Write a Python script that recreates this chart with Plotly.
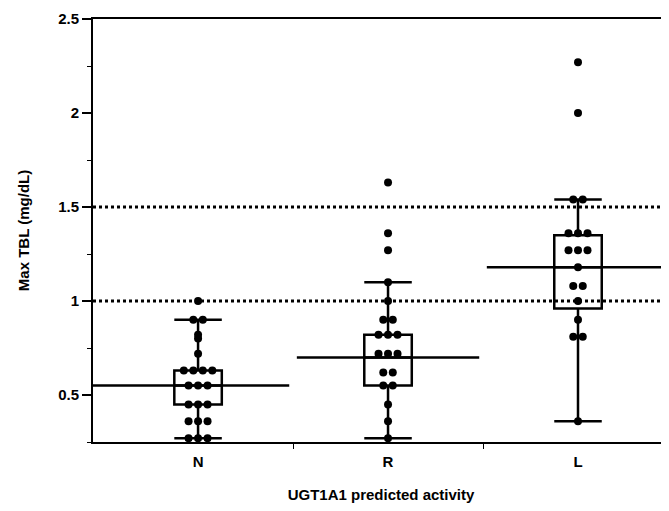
import plotly.graph_objects as go
from collections import Counter

categories = ["N", "R", "L"]

vals_N = [1.0, 0.9, 0.9, 0.82, 0.8, 0.72, 0.63, 0.63, 0.63, 0.63,
          0.55, 0.55, 0.55, 0.45, 0.45, 0.45, 0.36, 0.36, 0.36, 0.27, 0.27, 0.27]
vals_R = [1.63, 1.36, 1.27, 1.1, 1.0, 0.9, 0.9, 0.82, 0.82, 0.82, 0.72, 0.72, 0.72,
          0.62, 0.62, 0.55, 0.55, 0.45, 0.36, 0.27]
vals_L = [2.27, 2.0, 1.54, 1.54, 1.36, 1.36, 1.36, 1.27, 1.27, 1.27, 1.18,
          1.08, 1.08, 1.0, 0.9, 0.81, 0.81, 0.36]

# box statistics
q1 = [0.45, 0.55, 0.96]
medians = [0.55, 0.70, 1.18]
q3 = [0.63, 0.82, 1.35]
lower_whisker = [0.27, 0.27, 0.36]
upper_whisker = [0.90, 1.10, 1.54]

# long horizontal group lines
group_line = [0.55, 0.70, 1.18]

# reference (dotted) lines
ref_lines = [1.0, 1.5]

y_ticks = [0.5, 1, 1.5, 2, 2.5]
y_range = [0.25, 2.5]
x_range = [-0.553, 2.479]

font_main = "Liberation Sans Narrow, Liberation Sans, Arial Narrow, sans-serif"

fig = go.Figure()

all_vals = [vals_N, vals_R, vals_L]

for i, c in enumerate(categories):
    fig.add_trace(go.Box(
        x=[i], q1=[q1[i]], median=[medians[i]], q3=[q3[i]],
        lowerfence=[lower_whisker[i]], upperfence=[upper_whisker[i]],
        width=0.25, whiskerwidth=1,
        line=dict(color="black", width=2.5),
        fillcolor="rgba(0,0,0,0)",
        boxpoints=False, showlegend=False, hoverinfo="skip",
    ))

for i, c in enumerate(categories):
    left = x_range[0] if i == 0 else i - 0.48
    right = x_range[1] + 0.1 if i == len(categories) - 1 else i + 0.48
    fig.add_trace(go.Scatter(
        x=[left, right], y=[group_line[i], group_line[i]], mode="lines",
        line=dict(color="black", width=2.5), showlegend=False, hoverinfo="skip",
    ))

spacing = 0.05
for i, vals in enumerate(all_vals):
    counts = Counter(vals)
    seen = Counter()
    xs, ys = [], []
    for v in vals:
        k = counts[v]
        j = seen[v]
        seen[v] += 1
        xs.append(i + (j - (k - 1) / 2) * spacing)
        ys.append(v)
    fig.add_trace(go.Scatter(
        x=xs, y=ys, mode="markers",
        marker=dict(color="black", size=8),
        showlegend=False, hoverinfo="skip",
    ))

for v in ref_lines:
    fig.add_hline(y=v, line=dict(color="black", width=3, dash="dot"))

fig.update_layout(
    width=661, height=503,
    margin=dict(l=85, r=0, t=11, b=69),
    paper_bgcolor="white", plot_bgcolor="white",
    font=dict(family=font_main, color="black"),
    xaxis=dict(
        automargin=False,
        range=x_range, tickmode="array", tickvals=list(range(len(categories))),
        ticktext=[f"<b>{c}</b>" for c in categories], ticks="", showgrid=False, zeroline=False,
        showline=True, linecolor="black", linewidth=2, mirror=True,
        tickfont=dict(size=15, family=font_main), ticklabelstandoff=5,
        title=dict(text="<b>UGT1A1 predicted activity</b>", font=dict(size=15), standoff=20),
        minor=dict(tickmode="array", tickvals=[0.5, 1.5], ticks="outside",
                   ticklen=5, tickcolor="black", tickwidth=1),
    ),
    yaxis=dict(
        automargin=False,
        range=y_range, tickmode="array", tickvals=y_ticks,
        ticktext=[f"<b>{t}</b>" for t in y_ticks],
        ticks="outside", ticklen=9, tickwidth=2, tickcolor="black",
        showgrid=False, zeroline=False,
        showline=True, linecolor="black", linewidth=2,
        tickfont=dict(size=15, family=font_main),
        title=dict(text="<b>Max TBL (mg/dL)</b>", font=dict(size=15), standoff=25),
        minor=dict(dtick=0.25, ticks="outside", ticklen=4, tickcolor="black", tickwidth=1),
    ),
)

fig.write_html("out.html")
